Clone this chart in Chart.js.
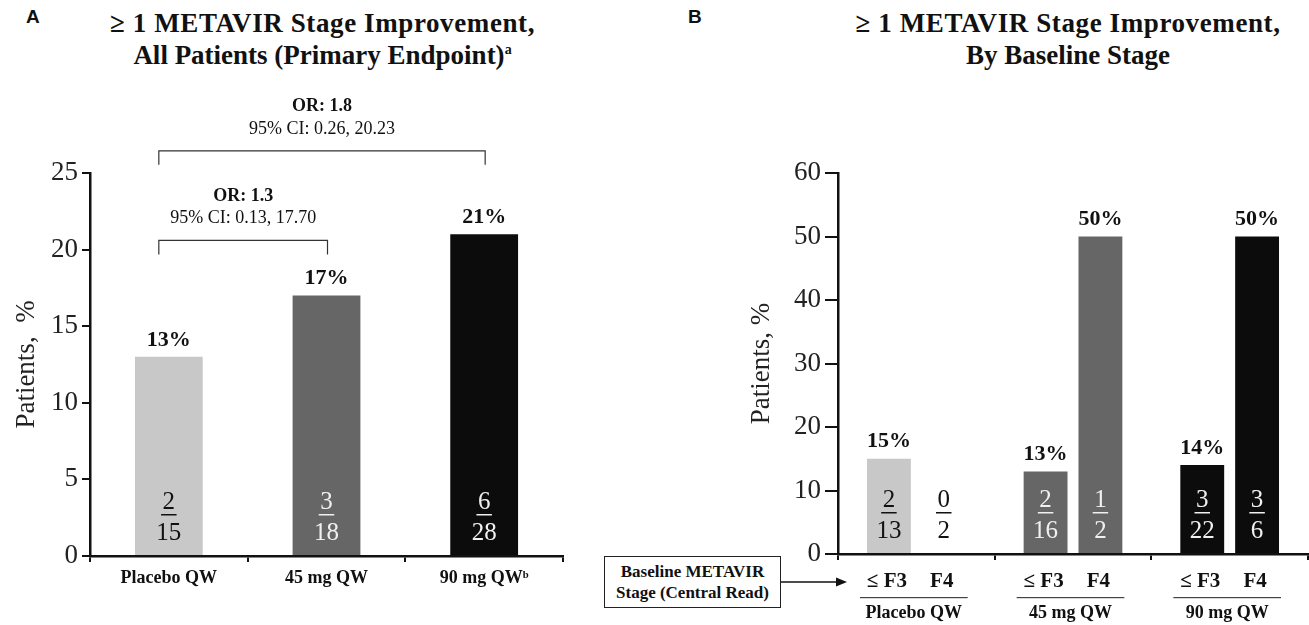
<!DOCTYPE html>
<html>
<head>
<meta charset="utf-8">
<script src="https://cdn.jsdelivr.net/npm/chart.js@4"></script>
<style>
  body { margin: 0; background: #fff; width: 1309px; height: 625px; position: relative; overflow: hidden; }
  .panel { position: absolute; top: 0; height: 625px; }
  .letter { position: absolute; font: bold 19px "Liberation Sans", Arial, sans-serif; color: #111; }
  .title { position: absolute; text-align: center; font: bold 27px/32px "Liberation Serif", "Times New Roman", serif; color: #111; }
  .title .l1 { letter-spacing: 0.6px; }
  .sup { font-size: 14px; vertical-align: 10px; line-height: 0; }
  #stageBox { position: absolute; left: 604px; top: 556px; width: 175px; height: 50px; border: 1.5px solid #222;
    font: bold 17px/21px "Liberation Serif", "Times New Roman", serif; color: #111; text-align: center;
    display: flex; align-items: center; justify-content: center; background: #fff; }
</style>
</head>
<body>
<div class="letter" style="left:26px; top:6px;">A</div>
<div class="title" style="left:0; width:645px; top:7px;"><span class="l1">&ge; 1 METAVIR Stage Improvement,</span><br>All Patients (Primary Endpoint)<span class="sup">a</span></div>
<div class="letter" style="left:688px; top:6px;">B</div>
<div class="title" style="left:830px; width:476px; top:7px;"><span class="l1">&ge; 1 METAVIR Stage Improvement,</span><br>By Baseline Stage</div>

<div class="panel" style="left:0; width:600px;"><canvas id="chartA"></canvas></div>
<div class="panel" style="left:600px; width:709px;"><canvas id="chartB"></canvas></div>
<div id="stageBox">Baseline METAVIR<br>Stage (Central Read)</div>

<script>
// --- Panel A data ---
const groupsA = ['Placebo QW', '45 mg QW', '90 mg QW\u1D47'];
const pctA = [13, 17, 21];
const respA = [2, 3, 6];
const totalA = [15, 18, 28];

// odds ratio comparisons vs placebo: [from, to]
const orPairs = [[0, 1], [0, 2]];
const orText = ['OR: 1.3', 'OR: 1.8'];
const ciText = ['95% CI: 0.13, 17.70', '95% CI: 0.26, 20.23'];

// --- Panel B data ---
const groupsB = ['Placebo QW', '45 mg QW', '90 mg QW'];
const stagesB = ['\u2264 F3', 'F4'];
const pctF3 = [15, 13, 14];
const pctF4 = [0, 50, 50];
const respF3 = [2, 2, 3];
const totalF3 = [13, 16, 22];
const respF4 = [0, 1, 3];
const totalF4 = [2, 2, 6];

const barColors = ['#c8c8c8', '#666666', '#0c0c0c'];
const fracColors = ['#111111', '#f0f0f0', '#f0f0f0'];

const SERIF = '"Liberation Serif", "Times New Roman", serif';
const INK = '#111';

Chart.defaults.font.family = SERIF;
Chart.defaults.color = INK;

function drawFraction(ctx, x, base, num, den, color) {
    ctx.save();
    ctx.fillStyle = color;
    ctx.font = '25px ' + SERIF;
    ctx.textAlign = 'center';
    ctx.textBaseline = 'middle';
    ctx.fillText(String(num), x, base - 54);
    const w = ctx.measureText(String(num)).width;
    ctx.fillRect(x - w / 2 - 1.5, base - 42, w + 3, 1.5);
    ctx.fillText(String(den), x, base - 23);
    ctx.restore();
}

function drawPct(ctx, bar, value) {
    ctx.save();
    ctx.fillStyle = INK;
    ctx.font = 'bold 22px ' + SERIF;
    ctx.textAlign = 'center';
    ctx.textBaseline = 'middle';
    ctx.fillText(value + '%', bar.x, bar.y - 17);
    ctx.restore();
}

function yAxis(max, step, width, titleText, titlePad, tickLen) {
    return {
        min: 0,
        max: max,
        ticks: { stepSize: step, font: { size: 27 }, color: '#222', padding: 4 },
        grid: { drawOnChartArea: false, drawTicks: true, tickLength: tickLen, color: INK, lineWidth: 2 },
        border: { display: true, color: INK, width: 2.5 },
        title: { display: true, text: titleText, font: { size: 27 }, color: '#222', padding: { top: titlePad, bottom: 0 } },
        afterFit: (scale) => { scale.width = width; }
    };
}

// ---------- Panel A ----------
const annotateA = {
    id: 'annotateA',
    afterDatasetsDraw(chart) {
        const ctx = chart.ctx;
        const y = chart.scales.y;
        const bars = chart.getDatasetMeta(0).data;
        const base = y.getPixelForValue(0);

        bars.forEach((bar, i) => {
            drawPct(ctx, bar, pctA[i]);
            drawFraction(ctx, bar.x, base, respA[i], totalA[i], fracColors[i]);
        });

        // brackets with odds ratios
        const levels = [20.6, 26.45];
        orPairs.forEach((pair, k) => {
            const x0 = bars[pair[0]].x - 10;
            const x1 = bars[pair[1]].x + 1;
            const ly = y.getPixelForValue(levels[k]);
            ctx.save();
            ctx.strokeStyle = '#333';
            ctx.lineWidth = 1.2;
            ctx.beginPath();
            ctx.moveTo(x0, ly + 14);
            ctx.lineTo(x0, ly);
            ctx.lineTo(x1, ly);
            ctx.lineTo(x1, ly + 14);
            ctx.stroke();
            ctx.fillStyle = INK;
            ctx.textAlign = 'center';
            ctx.textBaseline = 'middle';
            ctx.font = 'bold 18px ' + SERIF;
            ctx.fillText(orText[k], (x0 + x1) / 2, ly - 44);
            ctx.font = '18px ' + SERIF;
            ctx.fillText(ciText[k], (x0 + x1) / 2, ly - 22);
            ctx.restore();
        });
    }
};

new Chart(document.getElementById('chartA'), {
    type: 'bar',
    data: {
        labels: groupsA,
        datasets: [{
            data: pctA,
            backgroundColor: barColors,
            borderWidth: 0,
            categoryPercentage: 0.5,
            barPercentage: 0.86
        }]
    },
    options: {
        responsive: true,
        maintainAspectRatio: false,
        animation: false,
        layout: { padding: { top: 173, left: 0, right: 37, bottom: 0 } },
        plugins: { legend: { display: false }, tooltip: { enabled: false } },
        scales: {
            x: {
                ticks: { font: { size: 18, weight: 'bold' }, color: INK, padding: 6, maxRotation: 0, autoSkip: false },
                grid: { drawOnChartArea: false, drawTicks: true, tickLength: 6, color: INK, lineWidth: 2 },
                border: { display: true, color: INK, width: 2.5 },
                afterFit: (scale) => { scale.height = 69; }
            },
            y: yAxis(25, 5, 90, 'Patients,  %', 11, 8)
        }
    },
    plugins: [annotateA]
});

// ---------- Panel B ----------
const annotateB = {
    id: 'annotateB',
    afterDatasetsDraw(chart) {
        const ctx = chart.ctx;
        const y = chart.scales.y;
        const base = y.getPixelForValue(0);
        const f3 = chart.getDatasetMeta(0).data;
        const f4 = chart.getDatasetMeta(1).data;

        groupsB.forEach((g, i) => {
            if (pctF3[i] > 0) drawPct(ctx, f3[i], pctF3[i]);
            if (pctF4[i] > 0) drawPct(ctx, f4[i], pctF4[i]);
            drawFraction(ctx, f3[i].x, base, respF3[i], totalF3[i], fracColors[i]);
            drawFraction(ctx, f4[i].x, base, respF4[i], totalF4[i], pctF4[i] > 0 ? fracColors[i] : INK);

            // stage labels, separator line, group name
            ctx.save();
            ctx.fillStyle = INK;
            ctx.textAlign = 'center';
            ctx.textBaseline = 'middle';
            ctx.font = 'bold 21px ' + SERIF;
            ctx.fillText(stagesB[0], f3[i].x - 2, base + 28);
            ctx.fillText(stagesB[1], f4[i].x - 2, base + 28);
            const left = f3[i].x - f3[i].width / 2 - 7;
            const right = f4[i].x + f4[i].width / 2 + 2;
            ctx.fillStyle = '#444';
            ctx.fillRect(left, base + 43, right - left, 1.2);
            ctx.fillStyle = INK;
            ctx.font = 'bold 18px ' + SERIF;
            ctx.fillText(g, (left + right) / 2, base + 59);
            ctx.restore();
        });

        // arrow from the stage box to the stage labels
        ctx.save();
        ctx.strokeStyle = INK;
        ctx.fillStyle = INK;
        ctx.lineWidth = 1.5;
        const ay = base + 28;
        ctx.beginPath();
        ctx.moveTo(181, ay);
        ctx.lineTo(238, ay);
        ctx.stroke();
        ctx.beginPath();
        ctx.moveTo(247, ay);
        ctx.lineTo(236, ay - 4.5);
        ctx.lineTo(236, ay + 4.5);
        ctx.closePath();
        ctx.fill();
        ctx.restore();
    }
};

new Chart(document.getElementById('chartB'), {
    type: 'bar',
    data: {
        labels: groupsB,
        datasets: [
            { label: stagesB[0], data: pctF3, backgroundColor: barColors, borderWidth: 0, categoryPercentage: 0.7, barPercentage: 0.8 },
            { label: stagesB[1], data: pctF4, backgroundColor: barColors, borderWidth: 0, categoryPercentage: 0.7, barPercentage: 0.8 }
        ]
    },
    options: {
        responsive: true,
        maintainAspectRatio: false,
        animation: false,
        layout: { padding: { top: 173, left: 0, right: 1, bottom: 0 } },
        plugins: { legend: { display: false }, tooltip: { enabled: false } },
        scales: {
            x: {
                ticks: { display: false },
                grid: { drawOnChartArea: false, drawTicks: true, tickLength: 6, color: INK, lineWidth: 2 },
                border: { display: true, color: INK, width: 2.5 },
                afterFit: (scale) => { scale.height = 71; }
            },
            y: yAxis(60, 10, 238, 'Patients, %', 146, 13)
        }
    },
    plugins: [annotateB]
});
</script>
</body>
</html>
